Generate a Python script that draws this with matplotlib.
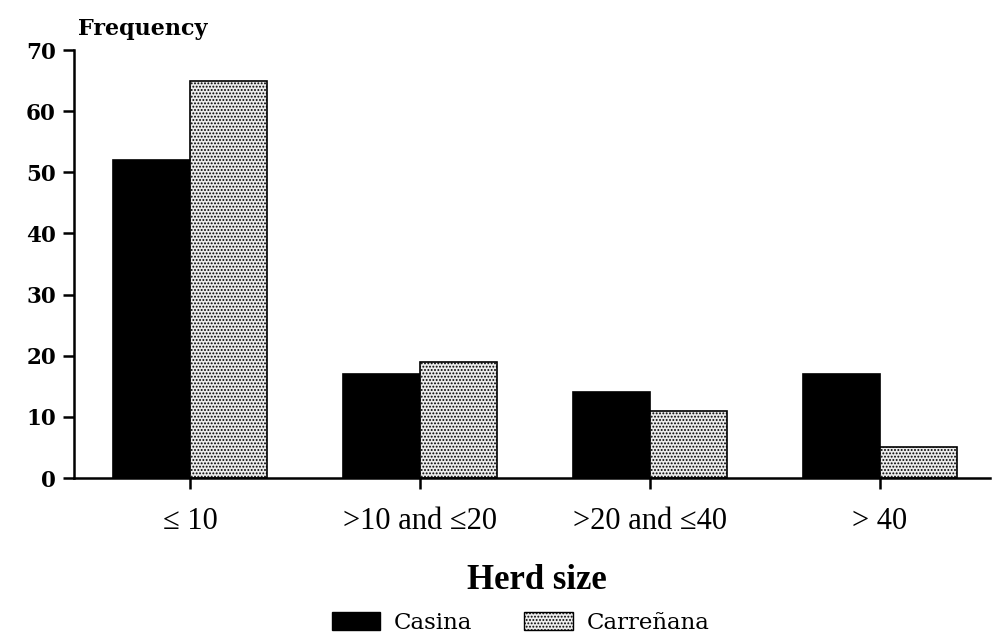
import numpy as np
import matplotlib.pyplot as plt
from matplotlib.patches import Patch

plt.rcParams['hatch.color'] = '#6a6a6a'
plt.rcParams['hatch.linewidth'] = 0.9

#%% Data
categories = ['\u2264 10', '>10 and \u226420', '>20 and \u226440', '> 40']
casina = [52, 17, 14, 17]
carrenana = [65, 19, 11, 5]
y_ticks = [0, 10, 20, 30, 40, 50, 60, 70]

#%% Plot
fig = plt.figure(figsize=(9.95, 6.37), dpi=100)
ax = fig.add_axes([0.0744, 0.2496, 0.9206, 0.6719])

x = np.arange(len(categories))
w = 0.335
ax.bar(x - w / 2, casina, width=w, color='black', edgecolor='black', linewidth=1.2)
ax.bar(x + w / 2, carrenana, width=w, color='#ececec', edgecolor='black',
       linewidth=1.2, hatch='.....')

ax.set_xlim(-0.505, 3.48)
ax.set_ylim(0, 70)
ax.set_yticks(y_ticks)
ax.set_yticklabels([str(t) for t in y_ticks], fontfamily='DejaVu Serif',
                   fontweight='bold', fontsize=15.5)
ax.set_xticks(x)
ax.set_xticklabels(categories, fontfamily='Liberation Serif', fontsize=22)

for side in ['top', 'right']:
    ax.spines[side].set_visible(False)
ax.spines['left'].set_linewidth(1.8)
ax.spines['bottom'].set_linewidth(1.8)
ax.tick_params(axis='y', length=8, width=1.8, pad=5)
ax.tick_params(axis='x', length=8, width=1.8, pad=13)

fig.text(0.078, 0.955, 'Frequency', fontfamily='DejaVu Serif', fontweight='bold',
         fontsize=16, ha='left', va='center')
fig.text(0.54, 0.088, 'Herd size', fontfamily='Liberation Serif', fontweight='bold',
         fontsize=25, ha='center', va='center')

handles = [Patch(facecolor='black', edgecolor='black', label='Casina'),
           Patch(facecolor='#ececec', edgecolor='black', hatch='.....', label='Carre\u00f1ana')]
fig.legend(handles=handles, loc='center', bbox_to_anchor=(0.523, 0.022), ncol=2,
           frameon=False, prop={'family': 'DejaVu Serif', 'size': 16.5},
           handlelength=2.1, handleheight=0.85, columnspacing=2.3, handletextpad=0.6)

fig.savefig('out.png', dpi=100)
